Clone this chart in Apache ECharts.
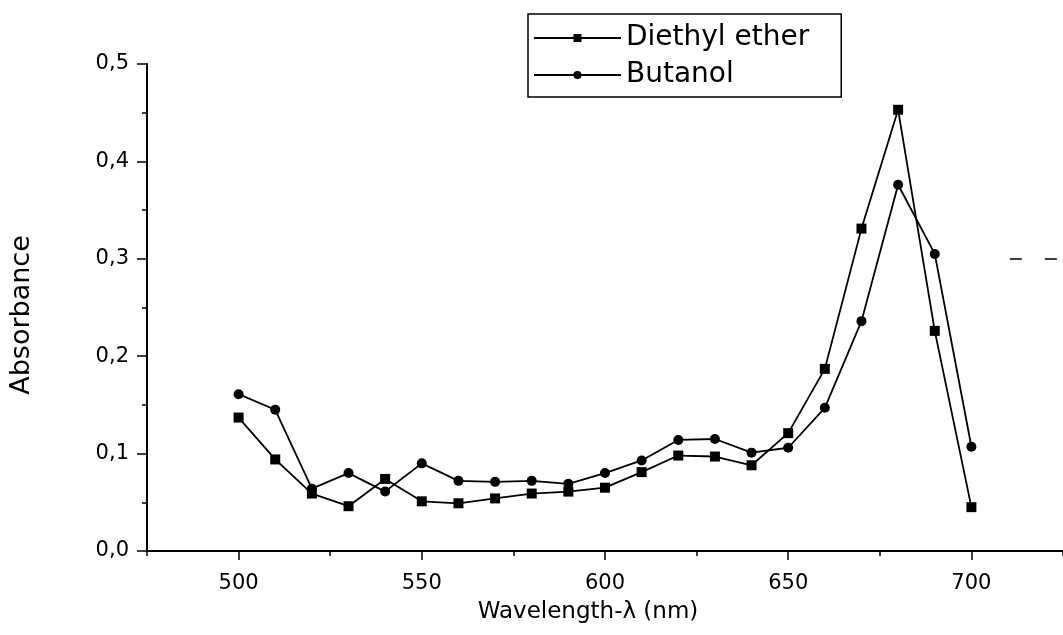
<!DOCTYPE html>
<html>
<head>
<meta charset="utf-8">
<script src="https://cdn.jsdelivr.net/npm/echarts@6/dist/echarts.min.js"></script>
<style>
  html, body { margin: 0; padding: 0; background: #fff; }
  #chart { width: 1063px; height: 635px; }
</style>
</head>
<body>
<div id="chart"></div>
<script>
// wavelengths (nm)
const wavelengths = [500, 510, 520, 530, 540, 550, 560, 570, 580, 590, 600,
  610, 620, 630, 640, 650, 660, 670, 680, 690, 700];

// absorbance
const diethylEther = [0.137, 0.094, 0.059, 0.046, 0.074, 0.051, 0.049, 0.054, 0.059, 0.061, 0.065,
  0.081, 0.098, 0.097, 0.088, 0.121, 0.187, 0.331, 0.453, 0.226, 0.045];
const butanol = [0.161, 0.145, 0.064, 0.080, 0.061, 0.090, 0.072, 0.071, 0.072, 0.069, 0.080,
  0.093, 0.114, 0.115, 0.101, 0.106, 0.147, 0.236, 0.376, 0.305, 0.107];

// axis ticks
const xMajorTicks = [500, 550, 600, 650, 700];
const xMinorTicks = [475, 525, 575, 625, 675, 725];

// stray dashed segment at the right edge of the scan
const strayLineX = [710.5, 725];
const strayLineY = 0.3;

const font = 'DejaVu Sans';

const toPairs = (ys) => wavelengths.map((x, i) => [x, ys[i]]);

const chart = echarts.init(document.getElementById('chart'));

chart.setOption({
  animation: false,
  backgroundColor: '#fff',
  grid: { left: 147, top: 64, right: -6, bottom: 84 },
  legend: {
    orient: 'vertical',
    left: 528,
    top: 14,
    padding: [9, 32, 7, 5],
    itemGap: 7,
    itemWidth: 87,
    itemHeight: 10,
    borderColor: '#000',
    borderWidth: 1.5,
    textStyle: { fontFamily: font, fontSize: 28, color: '#000', lineHeight: 30 },
    data: ['Diethyl ether', 'Butanol']
  },
  xAxis: [{
    type: 'value',
    min: 475,
    max: 725,
    name: 'Wavelength-λ (nm)',
    nameLocation: 'middle',
    nameGap: 50,
    nameTextStyle: { fontFamily: font, fontSize: 23, color: '#000', padding: [0, 34, 0, 0] },
    axisLine: { lineStyle: { color: '#000', width: 2 } },
    axisTick: { customValues: xMajorTicks, length: 9, lineStyle: { color: '#000', width: 1.5 } },
    axisLabel: {
      customValues: xMajorTicks,
      margin: 22,
      fontFamily: font, fontSize: 21, color: '#000'
    },
    splitLine: { show: false }
  }, {
    type: 'value',
    position: 'bottom',
    min: 475,
    max: 725,
    axisLine: { show: false },
    axisTick: { customValues: xMinorTicks, length: 5, lineStyle: { color: '#000', width: 1.5 } },
    axisLabel: { show: false },
    splitLine: { show: false }
  }],
  yAxis: {
    type: 'value',
    min: 0,
    max: 0.5,
    interval: 0.1,
    name: 'Absorbance',
    nameLocation: 'middle',
    nameGap: 112,
    nameTextStyle: { fontFamily: font, fontSize: 27, color: '#000', padding: [0, 15, 0, 0] },
    axisLine: { show: true, lineStyle: { color: '#000', width: 2 } },
    axisTick: { length: 10, lineStyle: { color: '#000', width: 1.5 } },
    minorTick: { show: true, splitNumber: 2, length: 5, lineStyle: { color: '#000', width: 1.5 } },
    axisLabel: {
      margin: 18,
      fontFamily: font, fontSize: 21, color: '#000',
      formatter: (v) => v.toFixed(1).replace('.', ',')
    },
    splitLine: { show: false }
  },
  series: [{
    name: 'Diethyl ether',
    type: 'line',
    data: toPairs(diethylEther),
    symbol: 'rect',
    symbolSize: 10,
    itemStyle: { color: '#000' },
    lineStyle: { color: '#000', width: 1.8 },
    markLine: {
      silent: true,
      symbol: 'none',
      label: { show: false },
      lineStyle: { color: '#000', width: 1.5, type: [12, 23] },
      data: [[{ coord: [strayLineX[0], strayLineY] }, { coord: [strayLineX[1], strayLineY] }]]
    }
  }, {
    name: 'Butanol',
    type: 'line',
    data: toPairs(butanol),
    symbol: 'circle',
    symbolSize: 10,
    itemStyle: { color: '#000' },
    lineStyle: { color: '#000', width: 1.8 }
  }]
});
</script>
</body>
</html>
